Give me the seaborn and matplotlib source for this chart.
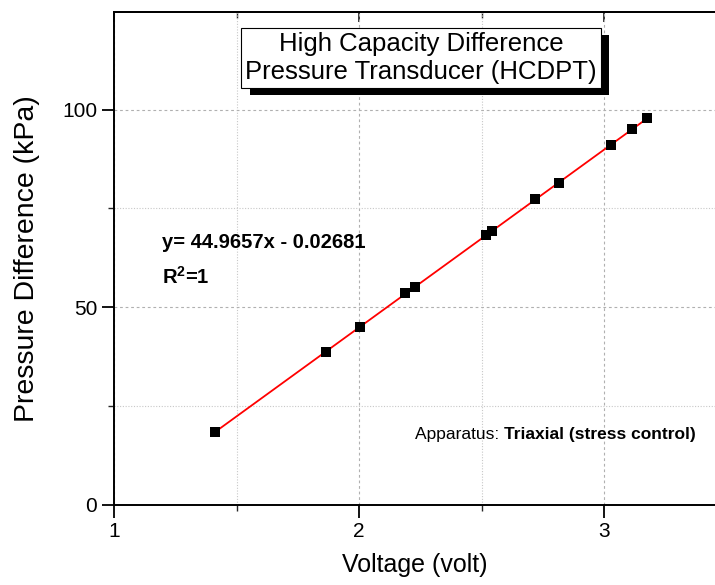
import numpy as np
import pandas as pd
import matplotlib
matplotlib.use("Agg")
import matplotlib.pyplot as plt
import matplotlib.patheffects as pe
from matplotlib.ticker import MultipleLocator
import seaborn as sns

voltage = [1.414, 1.865, 2.004, 2.188, 2.229, 2.520, 2.543, 2.720, 2.818, 3.027, 3.116, 3.177]
pressure = [18.4, 38.8, 45.1, 53.5, 55.2, 68.4, 69.4, 77.3, 81.5, 91.0, 95.1, 97.8]
x_ticks = [1, 2, 3]
y_ticks = [0, 50, 100]

sns.set_style("white")
plt.rcParams['font.family'] = ['Liberation Sans', 'DejaVu Sans']
plt.rcParams['text.color'] = 'black'
plt.rcParams['axes.labelcolor'] = 'black'
plt.rcParams['mathtext.fontset'] = 'custom'
plt.rcParams['mathtext.rm'] = 'Liberation Sans'
plt.rcParams['mathtext.bf'] = 'Liberation Sans:bold'

df = pd.DataFrame({"Voltage": voltage, "Pressure": pressure})

fig = plt.figure(figsize=(7.15, 5.85), dpi=100)
ax = fig.add_axes([114/715, 1-505/585, 1-114/715, (505-12)/585])

ax.set_xlim(1, 3.453)
ax.set_ylim(0, 124.7)

# grid
ax.xaxis.set_major_locator(MultipleLocator(1))
ax.xaxis.set_minor_locator(MultipleLocator(0.5))
ax.yaxis.set_major_locator(MultipleLocator(50))
ax.yaxis.set_minor_locator(MultipleLocator(25))
ax.grid(True, which='major', color='#b0b0b0', linestyle=(0, (2.5, 2.5)), linewidth=0.8)
ax.grid(True, which='minor', color='#c8c8c8', linestyle=(0, (1, 1.5)), linewidth=0.8)
ax.set_axisbelow(True)

sns.regplot(data=df, x="Voltage", y="Pressure", ax=ax, scatter=False, ci=None,
            truncate=True, line_kws=dict(color='red', lw=1.3, zorder=3))
sns.scatterplot(data=df, x="Voltage", y="Pressure", ax=ax, marker='s', s=55,
                color='black', edgecolor='black', linewidth=0, zorder=4)

ax.set_xticks(x_ticks)
ax.set_yticks(y_ticks)
ax.set_xticklabels([str(t) for t in x_ticks])
ax.set_yticklabels([str(t) for t in y_ticks])
ax.tick_params(axis='both', which='major', direction='out', length=9, width=1.3,
               labelsize=15, colors='black', pad=3)
ax.tick_params(axis='both', which='minor', direction='out', length=4, width=1.0)
ax.tick_params(axis='both', which='both', bottom=True, left=True)

for s in ['left', 'bottom', 'top']:
    ax.spines[s].set_visible(True)
    ax.spines[s].set_linewidth(1.4)
    ax.spines[s].set_color('black')
ax.spines['right'].set_visible(False)

# top mirror ticks pointing inward
sec = ax.secondary_xaxis('top')
sec.xaxis.set_major_locator(MultipleLocator(1))
sec.xaxis.set_minor_locator(MultipleLocator(0.5))
sec.tick_params(which='major', direction='in', length=7, width=1.3, labeltop=False)
sec.tick_params(which='minor', direction='in', length=4, width=1.0)
sec.spines['top'].set_linewidth(1.4)

ax.set_xlabel("Voltage (volt)", fontsize=18, labelpad=9)
ax.set_ylabel("Pressure Difference (kPa)", fontsize=20.5, labelpad=16)

t = ax.text(421/715, 1-58/585, "High Capacity Difference\nPressure Transducer (HCDPT)",
            transform=fig.transFigure, ha='center', va='center', fontsize=18.5,
            linespacing=1.25,
            bbox=dict(boxstyle='square,pad=0.15', fc='white', ec='black', lw=0.8))
fig.canvas.draw()
t.get_bbox_patch().set_path_effects([
    pe.SimplePatchShadow(offset=(6, -5), shadow_rgbFace='black', alpha=1.0),
    pe.Normal()])

fig.text(162/715, 1-242/585, "y= 44.9657x - 0.02681", fontsize=14.5, fontweight='bold',
         va='center', ha='left')
fig.text(162/715, 1-277/585, "R$^{\\mathbf{2}}$=1", fontsize=14.5, fontweight='bold',
         va='center', ha='left')

a = fig.text(415/715, 1-434/585, "Apparatus: ", fontsize=12.5, va='center', ha='left')
fig.canvas.draw()
bb = a.get_window_extent()
fig.text(bb.x1/fig.bbox.width, 1-434/585, "Triaxial (stress control)", fontsize=12.5,
         fontweight='bold', va='center', ha='left')

fig.savefig("out.png", dpi=100)
